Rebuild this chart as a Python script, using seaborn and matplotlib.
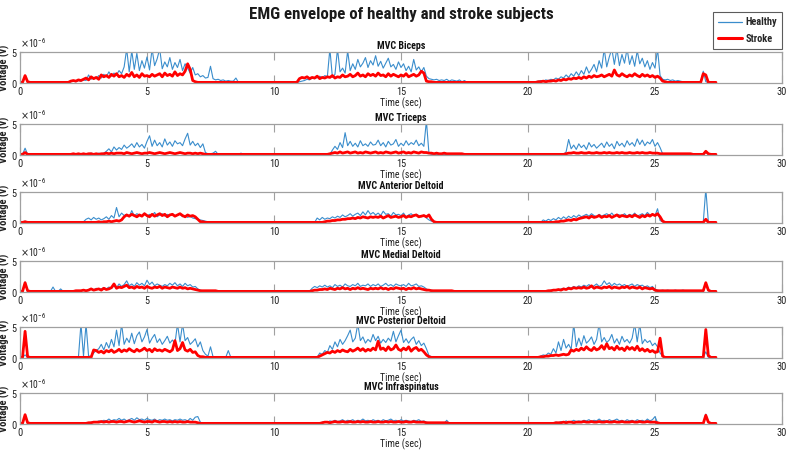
import numpy as np
import pandas as pd
import matplotlib
matplotlib.use("Agg")
import matplotlib.pyplot as plt
import seaborn as sns
from matplotlib.ticker import ScalarFormatter
from matplotlib.lines import Line2D
from matplotlib import font_manager

# ---------------- data (values in 1e-6 V, sampled every 0.1 s from 0 to 27.4 s) ----------------
muscles = ["MVC Biceps", "MVC Triceps", "MVC Anterior Deltoid",
           "MVC Medial Deltoid", "MVC Posterior Deltoid", "MVC Infraspinatus"]
groups = ["Healthy", "Stroke"]
x_ticks = [0, 5, 10, 15, 20, 25, 30]
y_ticks = [0, 5]

biceps_healthy = [
    0.1,0.1,1.1,0.2,0.1,0.1,0.1,0.1,0.1,0.1, 0.1,0.1,0.1,0.1,0.1,0.1,0.1,0.1,0.1,0.1,
    0.2,0.3,0.2,0.4,0.3,0.5,0.4,1.3,0.6,0.9, 0.7,1.2,0.8,1.4,1.0,1.8,1.1,1.6,1.3,2.0,
    1.5,2.6,5.5,1.8,5.2,2.2,4.8,2.0,3.6,2.4, 4.2,2.1,5.5,2.8,3.9,5.5,2.3,3.4,2.6,4.1,
    2.2,3.3,2.5,3.8,2.0,3.1,2.4,1.6,2.5,1.3, 1.5,1.0,1.2,0.8,0.9,2.7,0.7,0.5,0.6,0.4,
    0.5,0.3,0.4,0.3,0.3,0.8,0.1,0.1,0.1,0.1, 0.1,0.1,0.1,0.1,0.1,0.1,0.1,0.1,0.1,0.1,
    0.1,0.1,0.1,0.1,0.1,0.1,0.1,0.1,0.1,0.1, 0.2,0.3,0.4,0.6,0.5,0.8,0.7,0.9,1.1,0.8,
    1.2,1.0,5.5,0.9,1.4,5.5,1.8,2.4,1.6,5.2, 2.0,3.1,2.2,3.8,2.6,3.2,4.1,2.5,3.6,2.9,
    4.4,2.7,3.5,2.4,3.2,4.0,2.6,3.0,2.2,3.4, 2.5,3.1,2.0,2.7,1.8,3.8,2.1,2.6,1.8,2.5,
    1.1,0.7,0.6,0.5,0.6,0.4,0.5,0.4,0.6,0.3, 0.5,0.4,0.3,0.5,0.2,0.4,0.1,0.1,0.1,0.1,
    0.1,0.1,0.1,0.1,0.1,0.1,0.1,0.1,0.1,0.1, 0.1,0.1,0.1,0.1,0.1,0.1,0.1,0.1,0.1,0.1,
    0.1,0.1,0.1,0.2,0.3,0.4,0.3,0.5,0.4,0.6, 0.5,0.8,0.6,1.0,0.8,1.3,0.9,1.5,1.1,1.8,
    1.2,2.0,1.4,2.6,1.6,2.2,3.0,1.8,3.6,2.4, 5.5,2.6,4.2,5.5,3.0,5.5,2.8,4.6,3.2,5.5,
    3.0,4.4,2.7,5.2,3.1,4.0,2.6,3.6,2.2,3.3, 2.4,5.5,1.2,0.6,0.5,0.6,0.4,0.5,0.3,0.4,
    0.3,0.2,0.1,0.1,0.1,0.1,0.1,0.1,0.1,1.9, 0.2,0.1,0.1,0.1,0.1]
biceps_stroke = [
    0.1,0.1,1.2,0.2,0.1,0.1,0.1,0.1,0.1,0.1, 0.1,0.1,0.1,0.1,0.1,0.1,0.1,0.1,0.1,0.1,
    0.3,0.4,0.3,0.5,0.4,0.6,0.8,0.5,1.0,0.7, 0.9,0.6,1.3,1.0,1.2,0.9,1.4,1.1,1.5,1.0,
    1.2,0.9,1.4,1.1,1.7,1.0,1.3,0.9,1.5,1.1, 1.2,1.0,1.4,1.1,1.3,1.5,1.0,1.6,1.2,1.4,
    1.1,1.8,1.2,1.5,1.3,1.9,3.1,2.2,0.4,0.2, 0.1,0.1,0.1,0.1,0.1,0.1,0.1,0.1,0.1,0.1,
    0.1,0.1,0.1,0.1,0.1,0.1,0.1,0.1,0.1,0.1, 0.1,0.1,0.1,0.1,0.1,0.1,0.1,0.1,0.1,0.1,
    0.1,0.1,0.1,0.1,0.1,0.1,0.1,0.1,0.1,0.1, 0.7,0.9,0.8,1.0,0.7,0.9,0.8,1.1,0.7,0.9,
    0.8,1.0,0.9,1.2,0.8,1.0,0.9,1.3,1.0,1.1, 1.4,1.0,1.2,1.6,1.1,1.3,1.0,1.5,1.2,1.4,
    1.1,1.6,1.2,1.3,1.0,1.5,1.1,1.4,1.2,1.0, 1.3,1.1,1.5,1.0,1.2,1.4,1.1,1.3,1.9,1.6,
    0.3,0.2,0.2,0.1,0.1,0.1,0.1,0.1,0.1,0.1, 0.1,0.1,0.1,0.1,0.1,0.1,0.1,0.1,0.1,0.1,
    0.1,0.1,0.1,0.1,0.1,0.1,0.1,0.1,0.1,0.1, 0.1,0.1,0.1,0.1,0.1,0.1,0.1,0.1,0.1,0.1,
    0.1,0.1,0.1,0.1,0.2,0.2,0.3,0.2,0.3,0.3, 0.4,0.3,0.5,0.4,0.6,0.5,0.7,0.6,0.8,0.7,
    0.9,0.7,1.0,0.8,1.1,0.9,1.2,1.0,1.1,1.3, 1.0,1.2,1.4,1.1,2.1,1.3,1.1,1.5,1.2,1.0,
    1.3,1.1,1.5,1.2,1.0,1.4,1.1,1.3,1.0,1.2, 0.9,1.1,0.8,0.3,0.2,0.1,0.1,0.1,0.1,0.1,
    0.1,0.1,0.1,0.1,0.1,0.1,0.1,0.1,0.1,1.5, 1.3,0.1,0.1,0.1,0.1]

triceps_healthy = [
    0.1,0.1,1.1,0.1,0.1,0.1,0.1,0.1,0.1,0.1, 0.1,0.1,0.1,0.1,0.1,0.1,0.1,0.1,0.1,0.1,
    0.1,0.2,0.1,0.2,0.2,0.1,0.2,0.2,0.3,0.2, 0.2,0.3,0.2,0.3,0.6,1.0,0.5,1.3,0.8,1.2,
    0.9,1.6,1.1,1.4,1.8,1.2,2.0,1.3,1.7,1.1, 2.2,3.1,1.4,2.4,1.5,2.0,1.3,2.6,1.6,2.1,
    1.4,2.3,1.8,2.0,1.5,2.6,3.5,1.6,2.2,1.5, 1.9,1.2,1.8,0.4,0.2,0.2,0.3,0.6,0.1,0.1,
    0.1,0.1,0.1,0.1,0.1,0.1,0.1,0.3,0.1,0.1, 0.1,0.1,0.1,0.1,0.1,0.1,0.1,0.1,0.1,0.1,
    0.1,0.1,0.1,0.1,0.1,0.1,0.1,0.1,0.1,0.1, 0.1,0.1,0.1,0.1,0.1,0.1,0.1,0.1,0.1,0.1,
    0.1,0.1,0.1,0.8,1.4,0.9,2.0,1.2,3.6,1.5, 2.2,1.4,1.9,1.3,2.3,1.5,1.8,1.4,2.1,1.6,
    1.7,2.4,1.5,2.0,1.3,2.2,1.6,1.8,2.5,1.4, 1.9,1.5,2.3,1.6,2.0,1.7,2.4,1.5,1.9,1.4,
    5.5,0.3,0.1,0.1,0.1,0.1,0.1,0.1,0.1,0.1, 0.1,0.1,0.1,0.1,0.1,0.1,0.1,0.1,0.1,0.1,
    0.1,0.1,0.1,0.1,0.1,0.1,0.1,0.1,0.1,0.1, 0.1,0.1,0.1,0.1,0.1,0.1,0.1,0.1,0.1,0.1,
    0.1,0.1,0.1,0.1,0.1,0.1,0.1,0.1,0.1,0.1, 0.1,0.1,0.1,0.1,0.1,0.5,2.5,1.0,1.6,0.9,
    1.8,1.2,1.6,0.9,2.0,1.3,1.7,1.1,1.5,1.9, 1.2,2.1,1.4,1.8,1.0,2.2,1.5,1.9,1.3,2.3,
    1.6,2.0,1.4,2.6,1.7,2.4,1.5,2.1,1.8,2.5, 1.4,2.0,1.2,0.2,0.1,0.1,0.1,0.1,0.1,0.1,
    0.1,0.1,0.1,0.1,0.1,0.1,0.1,0.1,0.1,0.1, 0.4,0.1,0.1,0.1,0.1]
triceps_stroke = [
    0.1,0.1,0.4,0.1,0.1,0.1,0.1,0.1,0.1,0.1, 0.1,0.1,0.1,0.1,0.1,0.1,0.1,0.1,0.1,0.1,
    0.1,0.2,0.1,0.2,0.1,0.2,0.1,0.2,0.2,0.1, 0.2,0.1,0.2,0.2,0.3,0.2,0.3,0.2,0.3,0.3,
    0.3,0.2,0.4,0.3,0.2,0.3,0.4,0.3,0.2,0.3, 0.3,0.4,0.3,0.2,0.3,0.4,0.3,0.2,0.3,0.4,
    0.3,0.2,0.3,0.4,0.3,0.2,0.3,0.3,0.2,0.3, 0.2,0.3,0.2,0.1,0.1,0.1,0.1,0.1,0.1,0.1,
    0.1,0.1,0.1,0.1,0.1,0.1,0.1,0.1,0.1,0.1, 0.1,0.1,0.1,0.1,0.1,0.1,0.1,0.1,0.1,0.1,
    0.1,0.1,0.1,0.1,0.1,0.1,0.1,0.1,0.1,0.1, 0.1,0.1,0.1,0.1,0.1,0.1,0.1,0.1,0.1,0.1,
    0.1,0.1,0.2,0.3,0.4,0.3,0.5,0.3,0.4,0.5, 0.3,0.4,0.5,0.3,0.4,0.3,0.5,0.4,0.3,0.4,
    0.5,0.3,0.4,0.3,0.5,0.4,0.3,0.4,0.5,0.3, 0.4,0.5,0.3,0.4,0.3,0.5,0.4,0.3,0.5,0.4,
    0.4,0.3,0.3,0.2,0.3,0.2,0.2,0.3,0.2,0.2, 0.2,0.2,0.2,0.2,0.2,0.1,0.1,0.1,0.1,0.1,
    0.1,0.1,0.1,0.1,0.1,0.1,0.1,0.1,0.1,0.1, 0.1,0.1,0.1,0.1,0.1,0.1,0.1,0.1,0.1,0.1,
    0.1,0.1,0.1,0.1,0.1,0.1,0.1,0.1,0.1,0.1, 0.1,0.1,0.1,0.1,0.1,0.2,0.3,0.3,0.4,0.3,
    0.3,0.4,0.3,0.3,0.4,0.3,0.3,0.4,0.3,0.3, 0.4,0.3,0.4,0.3,0.3,0.4,0.3,0.4,0.3,0.3,
    0.4,0.3,0.3,0.4,0.3,0.4,0.3,0.3,0.4,0.3, 0.3,0.3,0.2,0.2,0.2,0.2,0.2,0.2,0.2,0.2,
    0.2,0.2,0.2,0.2,0.2,0.1,0.1,0.1,0.1,0.1, 0.6,0.2,0.1,0.1,0.1]

ant_delt_healthy = [
    0.1,0.1,0.3,0.1,0.1,0.1,0.1,0.1,0.1,0.1, 0.1,0.1,0.1,0.1,0.1,0.1,0.1,0.1,0.1,0.1,
    0.1,0.1,0.1,0.1,0.1,0.2,0.6,0.8,0.5,0.9, 0.6,0.8,0.5,0.7,1.0,0.6,1.2,0.8,2.5,1.0,
    1.6,1.2,1.4,1.0,2.0,1.1,1.5,1.3,1.2,1.6, 1.1,1.4,1.2,1.7,1.0,1.3,1.5,1.1,1.4,1.2,
    1.5,1.1,1.3,1.4,1.0,1.2,0.9,1.1,0.8,0.7, 0.6,0.5,0.4,0.3,0.2,0.2,0.1,0.1,0.1,0.1,
    0.1,0.1,0.1,0.1,0.1,0.1,0.1,0.1,0.1,0.1, 0.1,0.1,0.1,0.1,0.1,0.1,0.1,0.1,0.1,0.1,
    0.1,0.1,0.1,0.1,0.1,0.1,0.1,0.1,0.1,0.1, 0.1,0.1,0.1,0.1,0.1,0.1,0.1,0.8,0.5,0.9,
    0.6,0.8,0.7,1.0,0.8,1.1,0.9,1.3,1.0,1.2, 1.5,1.1,1.4,1.6,1.2,1.8,1.3,2.0,1.4,1.7,
    1.3,1.6,1.2,1.9,1.4,1.5,1.1,1.7,1.3,1.4, 1.2,1.6,1.0,1.3,1.5,1.1,1.4,1.2,1.0,1.3,
    0.8,0.5,0.3,0.2,0.1,0.1,0.1,0.1,0.1,0.1, 0.1,0.1,0.1,0.1,0.1,0.1,0.1,0.1,0.1,0.1,
    0.1,0.1,0.1,0.1,0.1,0.1,0.1,0.1,0.1,0.1, 0.1,0.1,0.1,0.1,0.1,0.1,0.1,0.1,0.1,0.1,
    0.1,0.1,0.1,0.1,0.1,0.1,0.5,0.3,0.6,0.4, 0.7,0.5,0.9,0.6,1.0,0.7,1.1,0.8,1.2,0.9,
    1.3,1.0,1.2,1.4,1.1,1.5,1.2,1.0,1.4,1.1, 1.3,1.5,1.2,1.6,1.1,1.4,1.3,1.2,1.5,1.1,
    1.4,1.2,1.6,1.1,1.3,1.5,1.2,1.7,1.3,1.4, 1.2,2.3,0.4,0.2,0.1,0.1,0.1,0.1,0.1,0.1,
    0.1,0.1,0.1,0.1,0.1,0.1,0.1,0.1,0.1,0.1, 5.5,0.2,0.1,0.1,0.1]
ant_delt_stroke = [
    0.1,0.1,0.2,0.1,0.1,0.1,0.1,0.1,0.1,0.1, 0.1,0.1,0.1,0.1,0.1,0.1,0.1,0.1,0.1,0.1,
    0.1,0.1,0.1,0.1,0.1,0.1,0.1,0.1,0.1,0.1, 0.1,0.2,0.1,0.2,0.2,0.3,0.2,0.3,0.4,0.3,
    0.5,1.0,1.3,1.1,1.4,1.2,1.0,1.3,1.1,1.5, 1.2,1.0,1.4,1.1,1.3,1.5,1.2,1.4,1.0,1.3,
    1.4,1.1,1.3,1.5,1.2,1.0,1.3,1.1,1.2,1.0, 0.6,0.2,0.2,0.1,0.1,0.1,0.1,0.1,0.1,0.1,
    0.1,0.1,0.1,0.1,0.1,0.1,0.1,0.1,0.1,0.1, 0.1,0.1,0.1,0.1,0.1,0.1,0.1,0.1,0.1,0.1,
    0.1,0.1,0.1,0.1,0.1,0.1,0.1,0.1,0.1,0.1, 0.1,0.1,0.1,0.1,0.1,0.1,0.1,0.1,0.1,0.1,
    0.2,0.3,0.3,0.4,0.4,0.5,0.5,0.6,0.6,0.7, 0.7,0.8,0.7,0.9,0.8,1.0,0.9,0.8,1.0,0.9,
    1.0,0.9,1.1,0.8,1.0,1.2,0.9,1.0,1.1,0.9, 1.0,1.2,0.9,1.1,1.0,1.2,1.3,1.0,1.1,1.2,
    1.0,1.3,0.6,0.2,0.1,0.1,0.1,0.1,0.1,0.1, 0.1,0.1,0.1,0.1,0.1,0.1,0.1,0.1,0.1,0.1,
    0.1,0.1,0.1,0.1,0.1,0.1,0.1,0.1,0.1,0.1, 0.1,0.1,0.1,0.1,0.1,0.1,0.1,0.1,0.1,0.1,
    0.1,0.1,0.1,0.1,0.1,0.1,0.1,0.1,0.1,0.1, 0.1,0.2,0.2,0.3,0.3,0.4,0.5,0.4,0.6,0.5,
    0.7,0.8,0.9,1.0,0.8,1.1,0.9,1.0,1.2,0.9, 1.1,1.0,1.2,0.9,1.1,1.3,1.0,1.2,1.1,1.0,
    1.2,1.0,1.3,1.1,0.9,1.2,1.0,1.3,1.1,1.4, 1.2,1.5,1.0,0.3,0.1,0.1,0.1,0.1,0.1,0.1,
    0.1,0.1,0.1,0.1,0.1,0.1,0.1,0.1,0.1,0.1, 0.6,0.1,0.1,0.1,0.1]

med_delt_healthy = [
    0.1,0.1,1.6,0.2,0.1,0.1,0.1,0.1,0.1,0.1, 0.1,0.1,0.1,0.8,0.1,0.1,0.5,0.1,0.1,0.1,
    0.1,0.2,0.1,0.2,0.2,0.3,0.2,0.4,0.5,0.3, 0.6,0.4,0.5,0.7,0.5,0.8,0.6,1.0,0.7,1.3,
    0.9,1.2,1.8,1.0,1.3,0.9,1.5,1.1,1.4,1.0, 1.9,1.2,1.6,1.0,1.3,1.1,0.9,1.2,1.0,1.4,
    1.1,1.5,1.0,1.3,0.9,1.4,1.0,1.2,0.8,0.9, 0.5,0.3,0.2,0.2,0.2,0.1,0.1,0.1,0.1,0.1,
    0.1,0.1,0.1,0.1,0.1,0.1,0.1,0.1,0.1,0.1, 0.1,0.1,0.1,0.1,0.1,0.1,0.1,0.1,0.1,0.1,
    0.1,0.1,0.1,0.1,0.1,0.1,0.1,0.1,0.1,0.1, 0.1,0.1,0.1,0.1,0.1,0.6,0.9,0.7,1.0,0.8,
    1.1,0.8,1.0,0.7,1.2,0.9,1.1,0.8,1.3,1.0, 0.9,1.2,1.0,1.4,0.9,1.1,1.0,1.3,0.9,1.2,
    1.0,1.3,0.9,1.1,1.4,1.0,1.2,0.9,1.3,1.1, 1.0,1.2,0.9,1.4,1.0,1.1,1.3,0.9,1.0,0.8,
    0.5,0.3,0.3,0.2,0.2,0.2,0.1,0.1,0.1,0.1, 0.1,0.1,0.1,0.1,0.1,0.1,0.1,0.1,0.1,0.1,
    0.1,0.1,0.1,0.1,0.1,0.1,0.1,0.1,0.1,0.1, 0.1,0.1,0.1,0.1,0.1,0.1,0.1,0.1,0.1,0.1,
    0.1,0.1,0.1,0.1,0.1,0.1,0.1,0.1,0.2,0.3, 0.3,0.4,0.3,0.5,0.6,0.5,0.8,0.6,0.9,0.7,
    1.0,0.8,1.1,0.9,1.2,0.8,1.0,1.3,0.9,1.1, 1.8,1.2,1.5,1.0,1.4,1.1,1.3,1.0,1.2,0.9,
    1.1,1.3,0.9,1.2,1.0,1.1,0.8,1.0,0.7,0.9, 0.4,0.3,0.2,0.3,0.2,0.3,0.2,0.2,0.3,0.2,
    0.2,0.3,0.2,0.2,0.2,0.2,0.2,0.1,0.1,0.1, 1.2,0.2,0.1,0.1,0.1]
med_delt_stroke = [
    0.1,0.1,1.5,0.2,0.1,0.1,0.1,0.1,0.1,0.1, 0.1,0.1,0.1,0.1,0.1,0.1,0.1,0.1,0.1,0.1,
    0.1,0.1,0.2,0.2,0.2,0.3,0.2,0.3,0.5,0.3, 0.4,0.5,0.3,0.6,0.4,0.5,0.7,1.3,0.6,0.8,
    0.7,0.9,1.1,0.7,0.8,0.6,0.9,0.7,0.8,0.6, 0.9,0.7,0.6,0.8,0.7,0.9,0.6,0.8,0.7,0.6,
    0.8,0.7,0.6,0.8,0.6,0.7,0.5,0.6,0.5,0.4, 0.3,0.2,0.2,0.2,0.2,0.2,0.2,0.2,0.1,0.1,
    0.1,0.1,0.1,0.1,0.1,0.1,0.1,0.1,0.1,0.1, 0.1,0.1,0.1,0.1,0.1,0.1,0.1,0.1,0.1,0.1,
    0.1,0.1,0.1,0.1,0.1,0.1,0.1,0.1,0.1,0.1, 0.1,0.1,0.1,0.1,0.1,0.2,0.3,0.3,0.4,0.4,
    0.5,0.4,0.6,0.5,0.4,0.6,0.5,0.7,0.5,0.6, 0.4,0.6,0.5,0.7,0.5,0.6,0.5,0.4,0.6,0.5,
    0.6,0.5,0.7,0.5,0.6,0.4,0.6,0.5,0.7,0.6, 0.5,0.6,0.4,0.6,0.5,0.7,0.5,0.6,0.5,0.4,
    0.3,0.3,0.2,0.2,0.2,0.2,0.2,0.2,0.2,0.2, 0.2,0.1,0.1,0.1,0.1,0.1,0.1,0.1,0.1,0.1,
    0.1,0.1,0.1,0.1,0.1,0.1,0.1,0.1,0.1,0.1, 0.1,0.1,0.1,0.1,0.1,0.1,0.1,0.1,0.1,0.1,
    0.1,0.1,0.1,0.1,0.1,0.1,0.1,0.1,0.2,0.2, 0.3,0.3,0.4,0.3,0.5,0.4,0.6,0.5,0.7,0.6,
    0.7,0.6,0.8,0.6,0.7,1.0,0.6,0.8,0.7,0.6, 0.8,0.7,0.9,0.6,0.8,0.7,0.6,0.8,0.7,0.9,
    0.6,0.8,0.7,0.6,0.8,0.5,0.7,0.6,0.5,0.6, 0.3,0.2,0.2,0.2,0.2,0.2,0.2,0.2,0.2,0.2,
    0.2,0.2,0.2,0.2,0.2,0.2,0.2,0.2,0.2,0.2, 1.5,0.3,0.1,0.1,0.1]

post_delt_healthy = [
    0.1,0.1,0.5,0.1,0.1,0.1,0.1,0.1,0.1,0.1, 0.1,0.1,0.1,0.1,0.1,0.1,0.1,0.1,0.1,0.1,
    0.1,0.1,0.1,0.1,5.5,0.3,5.5,0.3,0.3,0.8, 1.2,1.5,2.2,1.3,2.5,1.6,3.0,1.8,4.5,2.0,
    5.5,2.2,3.2,2.5,4.0,2.3,3.6,4.2,2.6,3.4, 4.6,2.4,3.2,3.8,2.5,3.1,2.2,2.8,3.5,2.4,
    2.9,2.3,5.5,2.6,5.5,2.8,3.3,2.2,2.6,3.1, 1.8,2.6,1.2,0.6,0.3,1.8,0.2,0.2,0.1,0.2,
    0.1,0.1,1.2,0.1,0.1,0.1,0.1,0.1,0.1,0.1, 0.1,0.1,0.1,0.1,0.1,0.1,0.1,0.1,0.1,0.1,
    0.1,0.1,0.1,0.1,0.1,0.1,0.1,0.1,0.1,0.1, 0.1,0.1,0.1,0.1,0.1,0.1,0.1,0.1,0.8,0.6,
    1.2,0.9,2.0,1.4,2.6,1.8,3.0,2.2,2.8,3.6, 4.5,2.6,3.2,5.5,2.8,3.4,2.4,3.0,2.6,3.8,
    2.8,3.5,2.4,3.0,2.5,3.2,2.7,4.3,2.6,3.6, 4.5,2.5,3.1,2.4,3.0,3.4,2.2,2.8,2.0,2.4,
    1.5,0.4,0.2,0.1,0.1,0.1,0.1,0.1,0.1,0.1, 0.1,0.1,0.1,0.1,0.1,0.1,0.1,0.1,0.1,0.1,
    0.1,0.1,0.1,0.1,0.1,0.1,0.1,0.1,0.1,0.1, 0.1,0.1,0.1,0.1,0.1,0.1,0.1,0.1,0.1,0.1,
    0.1,0.1,0.1,0.1,0.1,0.3,0.5,0.4,0.8,0.6, 1.5,0.8,2.6,1.2,3.0,1.6,2.2,1.4,5.5,1.8,
    3.2,2.0,3.6,2.4,2.8,3.4,2.2,3.0,5.5,2.6, 3.3,2.5,2.9,3.8,2.4,3.1,2.2,3.5,2.6,3.0,
    2.4,3.2,5.5,2.6,5.5,2.3,3.0,2.5,2.8,2.0, 2.4,1.8,0.8,0.3,0.2,0.1,0.1,0.1,0.1,0.1,
    0.1,0.1,0.1,0.1,0.1,0.1,0.1,0.1,0.1,0.1, 1.0,0.1,0.1,0.1,0.1]
post_delt_stroke = [
    0.1,0.1,4.3,0.2,0.1,0.1,0.1,0.1,0.1,0.1, 0.1,0.1,0.1,0.1,0.1,0.1,0.1,0.1,0.1,0.1,
    0.1,0.1,0.1,0.1,0.1,0.1,0.1,0.1,0.1,1.3, 1.2,0.9,1.1,0.8,1.2,1.0,1.3,0.9,1.1,1.4,
    1.0,1.3,1.1,1.5,1.2,1.0,1.4,1.1,1.3,1.6, 1.2,1.4,1.0,1.5,1.2,1.3,1.1,1.4,1.2,1.0,
    1.3,2.8,1.2,1.5,2.5,1.3,1.1,1.4,0.9,1.0, 0.4,0.2,0.2,0.1,0.1,0.1,0.1,0.1,0.1,0.1,
    0.1,0.1,0.1,0.1,0.1,0.1,0.1,0.1,0.1,0.1, 0.1,0.1,0.1,0.1,0.1,0.1,0.1,0.1,0.1,0.1,
    0.1,0.1,0.1,0.1,0.1,0.1,0.1,0.1,0.1,0.1, 0.1,0.1,0.1,0.1,0.1,0.1,0.1,0.1,0.3,0.5,
    0.7,0.9,0.8,1.1,0.9,1.2,1.0,1.3,1.1,1.0, 1.4,1.1,1.3,1.6,1.2,1.5,1.1,1.4,1.2,1.6,
    1.3,2.7,1.4,1.6,1.2,1.8,1.3,1.5,2.1,1.4, 1.2,1.6,1.3,1.8,1.1,1.5,1.7,1.2,1.4,1.0,
    0.5,0.2,0.1,0.1,0.1,0.1,0.1,0.1,0.1,0.1, 0.1,0.1,0.1,0.1,0.1,0.1,0.1,0.1,0.1,0.1,
    0.1,0.1,0.1,0.1,0.1,0.1,0.1,0.1,0.1,0.1, 0.1,0.1,0.1,0.1,0.1,0.1,0.1,0.1,0.1,0.1,
    0.1,0.1,0.1,0.1,0.1,0.2,0.2,0.3,0.3,0.4, 0.4,0.5,0.4,0.5,0.6,0.5,0.6,1.3,1.1,1.4,
    1.2,1.6,1.3,1.8,1.4,1.2,1.7,1.3,1.5,2.0, 1.4,2.3,1.5,1.7,1.3,1.9,1.4,1.6,1.2,1.8,
    1.4,1.7,1.3,1.9,1.2,1.5,1.1,1.4,1.0,1.2, 0.9,1.0,3.2,0.3,0.1,0.1,0.1,0.1,0.1,0.1,
    0.1,0.1,0.1,0.1,0.1,0.1,0.1,0.1,0.1,0.1, 4.6,0.4,0.1,0.1,0.1]

infra_healthy = [
    0.1,0.1,1.3,0.1,0.1,0.1,0.1,0.1,0.1,0.1, 0.1,0.1,0.1,0.1,0.1,0.1,0.1,0.1,0.1,0.1,
    0.1,0.1,0.1,0.1,0.1,0.1,0.1,0.2,0.3,0.4, 0.3,0.5,0.4,0.6,0.5,0.8,0.5,0.7,0.6,0.9,
    0.6,0.8,0.5,0.7,0.9,0.6,1.0,0.7,0.8,0.6, 0.9,0.7,0.6,0.8,0.5,0.7,0.6,0.8,0.6,0.7,
    0.5,0.7,0.6,0.8,0.6,0.7,0.5,0.9,0.6,1.1, 1.2,0.3,0.1,0.1,0.1,0.1,0.1,0.1,0.1,0.1,
    0.1,0.1,0.1,0.1,0.1,0.1,0.1,0.1,0.1,0.1, 0.1,0.1,0.1,0.1,0.1,0.1,0.1,0.1,0.1,0.1,
    0.1,0.1,0.1,0.1,0.1,0.1,0.1,0.1,0.1,0.1, 0.1,0.1,0.1,0.1,0.1,0.1,0.1,0.1,0.1,0.3,
    0.4,0.3,0.5,0.4,0.6,0.4,0.5,0.7,0.4,0.6, 0.5,0.7,0.4,0.6,0.5,0.8,0.5,0.6,0.4,0.7,
    0.5,0.6,0.4,0.7,0.5,0.6,0.8,0.5,0.6,0.4, 0.7,0.5,0.6,0.5,0.4,0.6,0.5,0.7,0.4,0.5,
    0.3,0.2,0.2,0.1,0.1,0.1,0.1,0.1,0.6,0.1, 0.1,0.1,0.1,0.1,0.1,0.1,0.1,0.1,0.1,0.1,
    0.1,0.1,0.1,0.1,0.1,0.1,0.1,0.1,0.1,0.1, 0.1,0.1,0.1,0.1,0.1,0.1,0.1,0.1,0.1,0.1,
    0.1,0.1,0.1,0.1,0.1,0.1,0.1,0.1,0.1,0.1, 0.2,0.3,0.2,0.4,0.3,0.5,0.3,0.4,0.6,0.4,
    0.5,0.4,0.6,0.5,0.7,0.4,0.6,0.5,0.8,0.5, 0.6,0.4,0.7,0.5,0.6,0.8,0.5,0.6,0.4,0.7,
    0.5,0.6,0.4,0.7,0.5,0.6,0.4,0.8,0.5,0.7, 1.2,0.2,0.1,0.1,0.1,0.1,0.1,0.1,0.1,0.1,
    0.1,0.1,0.1,0.1,0.1,0.1,0.1,0.1,0.1,0.1, 1.6,0.3,0.1,0.1,0.1]
infra_stroke = [
    0.1,0.1,1.5,0.2,0.1,0.1,0.1,0.1,0.1,0.1, 0.1,0.1,0.1,0.1,0.1,0.1,0.1,0.1,0.1,0.1,
    0.1,0.1,0.1,0.1,0.1,0.1,0.1,0.2,0.2,0.3, 0.3,0.3,0.4,0.3,0.4,0.3,0.4,0.4,0.3,0.4,
    0.4,0.3,0.4,0.5,0.4,0.3,0.4,0.5,0.4,0.3, 0.4,0.4,0.3,0.5,0.4,0.3,0.4,0.4,0.3,0.4,
    0.3,0.4,0.3,0.4,0.3,0.3,0.4,0.3,0.3,0.3, 0.2,0.1,0.1,0.1,0.1,0.1,0.1,0.1,0.1,0.1,
    0.1,0.1,0.1,0.1,0.1,0.1,0.1,0.1,0.1,0.1, 0.1,0.1,0.1,0.1,0.1,0.1,0.1,0.1,0.1,0.1,
    0.1,0.1,0.1,0.1,0.1,0.1,0.1,0.1,0.1,0.1, 0.1,0.1,0.1,0.1,0.1,0.1,0.1,0.1,0.1,0.2,
    0.3,0.3,0.2,0.3,0.4,0.3,0.3,0.4,0.3,0.3, 0.4,0.3,0.3,0.4,0.3,0.4,0.3,0.3,0.4,0.3,
    0.3,0.4,0.3,0.3,0.4,0.3,0.4,0.3,0.3,0.4, 0.3,0.3,0.4,0.3,0.3,0.4,0.3,0.3,0.3,0.3,
    0.2,0.2,0.2,0.2,0.2,0.2,0.2,0.2,0.2,0.1, 0.1,0.1,0.1,0.1,0.1,0.1,0.1,0.1,0.1,0.1,
    0.1,0.1,0.1,0.1,0.1,0.1,0.1,0.1,0.1,0.1, 0.1,0.1,0.1,0.1,0.1,0.1,0.1,0.1,0.1,0.1,
    0.1,0.1,0.1,0.1,0.1,0.1,0.1,0.1,0.1,0.1, 0.1,0.2,0.2,0.2,0.3,0.2,0.3,0.3,0.2,0.3,
    0.3,0.3,0.4,0.3,0.3,0.4,0.3,0.3,0.4,0.3, 0.3,0.4,0.3,0.3,0.4,0.3,0.3,0.4,0.3,0.3,
    0.3,0.4,0.3,0.3,0.4,0.3,0.3,0.4,0.3,0.3, 0.3,0.2,0.1,0.1,0.1,0.1,0.1,0.1,0.1,0.1,
    0.1,0.1,0.1,0.1,0.1,0.1,0.1,0.1,0.1,0.1, 1.4,0.3,0.1,0.1,0.1]

healthy_series = [biceps_healthy, triceps_healthy, ant_delt_healthy,
                  med_delt_healthy, post_delt_healthy, infra_healthy]
stroke_series = [biceps_stroke, triceps_stroke, ant_delt_stroke,
                 med_delt_stroke, post_delt_stroke, infra_stroke]

# ---------------- styling ----------------
sns.set_theme(style="white")
available = {f.name for f in font_manager.fontManager.ttflist}
NARROW = None
for cand in ["Liberation Sans Narrow", "Arial Narrow", "Roboto Condensed",
             "Open Sans Condensed", "DejaVu Sans Condensed"]:
    if cand in available:
        NARROW = cand
        break
FONT = [NARROW or "Liberation Sans", "Liberation Sans", "DejaVu Sans"]
SCALE = 1.15 if NARROW else 1.0
plt.rcParams["font.family"] = FONT
plt.rcParams["axes.unicode_minus"] = True

BLUE = "#3a8dcc"
RED = "#ff0000"
GRAY = "#a0a0a0"
palette = {"Healthy": BLUE, "Stroke": RED}
widths = {"Healthy": 0.8, "Stroke": 2.0}

W, H = 787, 454
fig = plt.figure(figsize=(W / 100, H / 100), dpi=100)

tops_px = [52, 124, 192, 261, 327, 393]
ax_h_px = 31
left_px, right_px = 20, 782

fig.text(401 / W, 1 - 14 / H, "EMG envelope of healthy and stroke subjects",
         ha="center", va="center", fontsize=10.6 * SCALE, fontweight="bold",
         color="#1a1a1a")

for k, name in enumerate(muscles):
    top = tops_px[k]
    ax = fig.add_axes([left_px / W, 1 - (top + ax_h_px) / H,
                       (right_px - left_px) / W, ax_h_px / H])
    n = len(healthy_series[k])
    time = np.arange(n) / 10.0
    df = pd.DataFrame({
        "Time": np.concatenate([time, time]),
        "Voltage": np.concatenate([np.array(healthy_series[k]),
                                   np.array(stroke_series[k])]) * 1e-6,
        "Group": ["Healthy"] * n + ["Stroke"] * n,
    })
    for g in groups:
        sub = df[df["Group"] == g]
        sns.lineplot(data=sub, x="Time", y="Voltage", ax=ax, color=palette[g],
                     linewidth=widths[g], estimator=None, sort=False, legend=False)
    ax.set_xlim(0, 30)
    ax.set_ylim(0, 5e-6)
    ax.set_xticks(x_ticks)
    ax.set_xticklabels([str(v) for v in x_ticks])
    ax.set_yticks([v * 1e-6 for v in y_ticks])
    fmt = ScalarFormatter(useMathText=True)
    fmt.set_powerlimits((-3, 3))
    ax.yaxis.set_major_formatter(fmt)
    ax.yaxis.get_offset_text().set_fontsize(6 * SCALE)
    ax.yaxis.get_offset_text().set_color("#333333")
    ax.tick_params(axis="x", direction="in", length=6, width=0.8, color=GRAY,
                   top=True, bottom=True, labelsize=6.5 * SCALE,
                   labelcolor="#222222", pad=3)
    ax.tick_params(axis="y", direction="in", length=2, width=0.8, color=GRAY,
                   left=True, right=False, labelsize=6.5 * SCALE,
                   labelcolor="#222222", pad=1.5)
    for sp in ax.spines.values():
        sp.set_color(GRAY)
        sp.set_linewidth(0.9)
    ax.set_xlabel("Time (sec)", fontsize=6.2 * SCALE, labelpad=0, color="#222222")
    ax.set_ylabel("Voltage (v)", fontsize=6.6 * SCALE, fontweight="bold",
                  color="#222222")
    ax.yaxis.set_label_coords(-0.0125, 0.5)
    ax.set_title(name, fontsize=6.3 * SCALE, fontweight="bold", pad=2,
                 color="#111111")

handles = [Line2D([], [], color=BLUE, lw=0.9), Line2D([], [], color=RED, lw=2.2)]
leg = fig.legend(handles, groups, loc="upper right",
                 bbox_to_anchor=(782 / W, 1 - 12 / H), fontsize=6.5 * SCALE,
                 frameon=True, fancybox=False, borderpad=0.5, handlelength=2.3,
                 handletextpad=0.3, labelspacing=0.65, borderaxespad=0)
leg.get_frame().set_edgecolor("#333333")
leg.get_frame().set_linewidth(0.8)
for t in leg.get_texts():
    t.set_fontweight("bold")

fig.savefig("out.png", dpi=100)
